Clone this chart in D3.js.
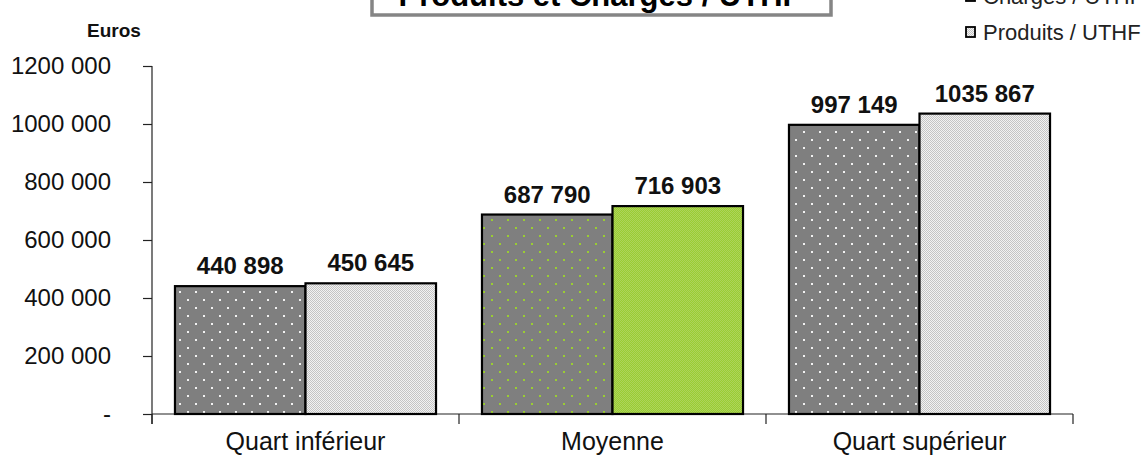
<!DOCTYPE html>
<html><head><meta charset="utf-8">
<script src="https://cdn.jsdelivr.net/npm/d3@7"></script>
<style>body{margin:0;background:#fff}svg{display:block}</style>
</head><body>
<script>
const categories = ["Quart inférieur", "Moyenne", "Quart supérieur"];
const seriesNames = ["Charges / UTHF", "Produits / UTHF"];
const charges = [440898, 687790, 997149];
const produits = [450645, 716903, 1035867];
const yTicks = [0, 200000, 400000, 600000, 800000, 1000000, 1200000];
const title = "Produits et Charges / UTHF";
const yTitle = "Euros";

const W = 1144, H = 464;
const FONT = "Arial, 'Liberation Sans', sans-serif";
const svg = d3.select("body").append("svg").attr("width", W).attr("height", H);
const defs = svg.append("defs");

function dotPattern(id, bg, dot) {
  const p = defs.append("pattern").attr("id", id).attr("patternUnits", "userSpaceOnUse")
    .attr("width", 16).attr("height", 16);
  p.append("rect").attr("width", 16).attr("height", 16).attr("fill", bg);
  p.append("rect").attr("x", 3).attr("y", 3).attr("width", 2).attr("height", 2).attr("fill", dot);
  p.append("rect").attr("x", 11).attr("y", 11).attr("width", 2).attr("height", 2).attr("fill", dot);
}
function finePattern(id, bg, fg) {
  const p = defs.append("pattern").attr("id", id).attr("patternUnits", "userSpaceOnUse")
    .attr("width", 2).attr("height", 2);
  p.append("rect").attr("width", 2).attr("height", 2).attr("fill", bg);
  p.append("rect").attr("x", 0).attr("y", 0).attr("width", 1).attr("height", 1).attr("fill", fg);
  p.append("rect").attr("x", 1).attr("y", 1).attr("width", 1).attr("height", 1).attr("fill", fg);
}
dotPattern("pDark", "#7f7f7f", "#f2f2f2");
dotPattern("pDarkG", "#7f7f7f", "#9acd32");
finePattern("pLight", "#f2f2f2", "#c4c4c4");
finePattern("pGreen", "#9acd32", "#add35c");

const x0 = d3.scaleBand().domain(categories).range([152, 1073]).paddingInner(0).paddingOuter(0);
const x1 = d3.scaleBand().domain(seriesNames).range([0, x0.bandwidth()]).paddingInner(0).paddingOuter(0.176);
const y = d3.scaleLinear().domain([0, 1200000]).range([414, 66]);

function fmt(v) {
  if (v === 0) return "-";
  const k = Math.floor(v / 1000), r = v % 1000;
  return k + " " + String(r).padStart(3, "0");
}

// y axis
const yAxis = d3.axisLeft(y).tickValues(yTicks).tickFormat(fmt).tickSize(9).tickPadding(32);
const gy = svg.append("g").attr("transform", "translate(152,0)").call(yAxis);
gy.select(".domain").attr("d", "M0,66V424").attr("stroke", "#222").attr("stroke-width", 1.2);
gy.selectAll(".tick line").attr("stroke", "#222").attr("stroke-width", 1.2);
gy.selectAll(".tick text").attr("font-family", FONT).attr("font-size", 24).attr("fill", "#111");

// x axis
const xAxis = d3.axisBottom(x0).tickSize(0).tickPadding(18);
const gx = svg.append("g").attr("transform", "translate(0,414)").call(xAxis);
gx.select(".domain").attr("d", "M152,0H1073").attr("stroke", "#222").attr("stroke-width", 1.2);
gx.selectAll(".tick text").attr("font-family", FONT).attr("font-size", 25).attr("fill", "#111");
const bounds = categories.map(c => x0(c)).concat([x0(categories[2]) + x0.bandwidth()]);
gx.selectAll(".bnd").data(bounds).enter().append("line")
  .attr("x1", d => d).attr("x2", d => d).attr("y1", 0).attr("y2", 10)
  .attr("stroke", "#222").attr("stroke-width", 1.2);

// bars
const rows = categories.map((c, i) => ({ cat: c, i, vals: [charges[i], produits[i]] }));
const fills = (ci, si) => {
  if (ci === 1) return si === 0 ? "url(#pDarkG)" : "url(#pGreen)";
  return si === 0 ? "url(#pDark)" : "url(#pLight)";
};
const g = svg.append("g");
rows.forEach(r => {
  r.vals.forEach((v, si) => {
    const bx = x0(r.cat) + x1(seriesNames[si]);
    g.append("rect").attr("x", bx).attr("y", y(v)).attr("width", x1.bandwidth())
      .attr("height", y(0) - y(v)).attr("fill", fills(r.i, si))
      .attr("stroke", "#000").attr("stroke-width", 2.2);
    g.append("text").attr("x", bx + x1.bandwidth() / 2).attr("y", y(v) - 12)
      .attr("text-anchor", "middle").attr("font-family", FONT)
      .attr("font-weight", "bold").attr("font-size", 24).attr("fill", "#111").text(fmt(v));
  });
});

// y title
svg.append("text").attr("x", 114).attr("y", 37).attr("text-anchor", "middle")
  .attr("font-family", FONT).attr("font-weight", "bold")
  .attr("font-size", 19).attr("fill", "#111").text(yTitle);

// title box
svg.append("rect").attr("x", 372).attr("y", -40).attr("width", 459).attr("height", 55)
  .attr("fill", "#fff").attr("stroke", "#858585").attr("stroke-width", 3.5);
svg.append("text").attr("x", 600).attr("y", 6).attr("text-anchor", "middle")
  .attr("font-family", FONT).attr("font-weight", "bold")
  .attr("font-size", 31).attr("fill", "#000").text(title);

// legend
const legFill = ["url(#pDark)", "url(#pLight)"];
seriesNames.forEach((s, i) => {
  const ly = 4 + i * 36;
  svg.append("rect").attr("x", 966).attr("y", ly - 13).attr("width", 9).attr("height", 10)
    .attr("fill", legFill[i]).attr("stroke", "#000").attr("stroke-width", 1.8);
  svg.append("text").attr("x", 983).attr("y", ly)
    .attr("font-family", FONT).attr("font-size", 22)
    .attr("fill", "#222").text(s);
});
</script>
</body></html>
